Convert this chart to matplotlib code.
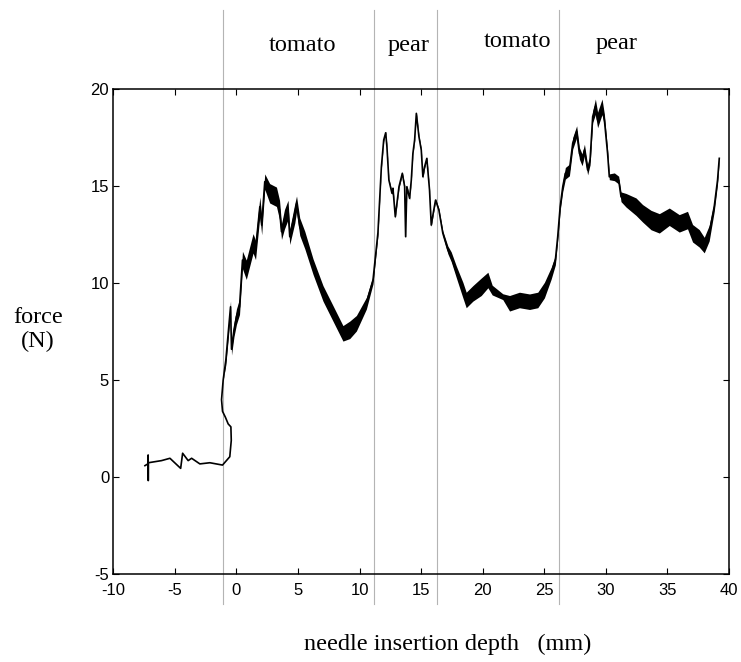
import numpy as np
from matplotlib import pyplot as plt

depth_mm = [-7.43, -7.17, -7.17, -7.16, -7.15, -6.08, -5.40, -4.53, -4.37, -3.92,
            -3.64, -2.97, -2.16, -1.13, -0.54, -0.42, -0.45, -0.67, -0.90, -1.13,
            -1.21, -1.08, -0.86, -0.67, -0.48, -0.40, -0.20, 0.00, 0.25, 0.49,
            0.80, 1.35, 1.55, 1.90, 2.05, 2.30, 2.70, 3.25, 3.50, 3.66,
            3.90, 4.19, 4.33, 4.74, 4.88, 5.14, 5.55, 6.22, 7.03, 7.84,
            8.65, 9.20, 9.74, 10.55, 11.09, 11.49, 11.77, 11.96, 12.12, 12.22,
            12.38, 12.63, 12.71, 12.90, 13.20, 13.47, 13.66, 13.74, 13.84, 14.06,
            14.20, 14.33, 14.47, 14.61, 14.82, 15.01, 15.14, 15.28, 15.46, 15.68,
            15.82, 16.00, 16.17, 16.44, 16.76, 17.17, 17.44, 17.85, 18.39, 18.66,
            19.20, 19.88, 20.42, 20.77, 21.63, 22.18, 22.98, 23.80, 24.47, 25.01,
            25.56, 25.90, 26.09, 26.29, 26.50, 26.71, 27.04, 27.31, 27.63, 27.85,
            28.07, 28.26, 28.52, 28.72, 28.93, 29.15, 29.33, 29.69, 29.88, 30.14,
            30.28, 30.69, 31.04, 31.23, 31.64, 32.45, 32.98, 33.67, 34.34, 35.15,
            35.96, 36.63, 37.04, 37.58, 37.99, 38.39, 38.80, 39.07, 39.21]
force_n = [0.60, 0.70, 1.15, -0.17, 0.75, 0.86, 0.98, 0.46, 1.24, 0.86,
           0.98, 0.69, 0.75, 0.63, 1.06, 1.90, 2.60, 2.75, 3.10, 3.40,
           4.00, 5.00, 6.05, 7.42, 8.79, 6.60, 7.60, 8.28, 8.79, 11.20,
           10.70, 12.06, 11.72, 13.95, 13.00, 15.24, 14.64, 14.46, 13.78, 12.66,
           13.30, 13.78, 12.40, 13.61, 14.10, 12.92, 12.23, 10.86, 9.48, 8.45,
           7.42, 7.60, 7.94, 8.97, 10.17, 12.60, 16.00, 17.39, 17.76, 17.04,
           15.32, 14.64, 14.90, 13.43, 14.98, 15.67, 14.98, 12.40, 14.98, 14.38,
           15.32, 16.70, 17.39, 18.76, 17.56, 16.87, 15.49, 16.01, 16.44, 14.81,
           13.00, 13.69, 14.29, 13.78, 12.58, 11.72, 11.37, 10.60, 9.65, 9.14,
           9.48, 9.82, 10.17, 9.65, 9.31, 8.97, 9.14, 9.05, 9.14, 9.65,
           10.52, 11.20, 12.40, 13.95, 14.98, 15.67, 15.84, 17.22, 17.82, 16.70,
           16.36, 16.87, 15.84, 16.36, 18.59, 19.10, 18.42, 19.10, 18.42, 16.70,
           15.49, 15.49, 15.32, 14.46, 14.28, 13.95, 13.61, 13.26, 13.09, 13.43,
           13.09, 13.26, 12.58, 12.32, 11.97, 12.58, 13.95, 15.32, 16.44]
# thickness of the noisy band around the trace (N)
band_n = [0, 0, 0, 0, 0, 0, 0, 0, 0, 0,
          0, 0, 0, 0, 0, 0, 0, 0, 0, 0,
          0, 0, 0.5, 0.6, 0.6, 0.6, 0.7, 0.8, 0.8, 0.9,
          1.0, 1.0, 1.0, 1.0, 1.0, 0.8, 1.0, 1.0, 1.0, 0.8,
          1.0, 1.0, 0.8, 1.0, 0.8, 0.9, 0.9, 0.8, 0.8, 0.8,
          0.8, 0.9, 0.8, 0.6, 0.4, 0.3, 0.2, 0.15, 0.15, 0.15,
          0.15, 0.15, 0.15, 0.15, 0.15, 0.15, 0.15, 0.15, 0.15, 0.15,
          0.15, 0.15, 0.15, 0.15, 0.15, 0.15, 0.15, 0.15, 0.15, 0.15,
          0.15, 0.15, 0.15, 0.15, 0.25, 0.4, 0.5, 0.6, 0.8, 0.8,
          0.8, 0.9, 0.8, 0.5, 0.3, 0.8, 0.8, 0.8, 0.8, 0.8,
          0.6, 0.5, 0.4, 0.4, 0.5, 0.6, 0.6, 0.6, 0.6, 0.6,
          0.6, 0.6, 0.5, 0.5, 0.6, 0.8, 0.8, 0.8, 0.6, 0.4,
          0.3, 0.4, 0.4, 0.5, 0.7, 0.9, 0.9, 1.0, 1.0, 0.9,
          0.9, 0.9, 0.9, 0.9, 0.8, 0.8, 0.5, 0.4, 0.25]

# tissue boundaries and layer names
boundaries = [-1.1, 11.15, 16.3, 26.2]
layer_names = ['tomato', 'pear', 'tomato', 'pear']
layer_x = [5.4, 14.0, 22.8, 30.85]
layer_y = [21.95, 22.0, 22.2, 22.1]

serif = 'Liberation Serif'
plt.rcParams['font.family'] = 'Liberation Sans'
plt.rcParams['axes.unicode_minus'] = False

fig = plt.figure(figsize=(7.41, 6.62), dpi=100)
ax = fig.add_axes([0.1529, 0.1325, 0.8309, 0.7326])

x = np.array(depth_mm)
y = np.array(force_n)
b = np.array(band_n)

for xb in boundaries:
    ax.plot([xb, xb], [-6.55, 24.1], color='#b4b4b4', lw=0.8,
            clip_on=False, zorder=1)

ax.fill_between(x, y - b / 2, y + b / 2, color='k', lw=0, zorder=2)
ax.plot(x, y, color='k', lw=1.2, zorder=3)

for name, lx, ly in zip(layer_names, layer_x, layer_y):
    ax.text(lx, ly, name, ha='center', va='baseline', fontsize=17.5,
            family=serif)

ax.set_xlim(-10, 40)
ax.set_ylim(-5, 20)
ax.set_xticks(range(-10, 41, 5))
ax.set_yticks(range(-5, 21, 5))
ax.tick_params(direction='in', length=4, width=0.8, top=True, right=True,
               labelsize=12)
ax.tick_params(axis='x', pad=6)
ax.tick_params(axis='y', pad=3)
for s in ax.spines.values():
    s.set_linewidth(1.1)

fig.text(447.5 / 741, 1 - 650 / 662, 'needle insertion depth   (mm)',
         ha='center', va='baseline', fontsize=17.5, family=serif)
fig.text(38 / 741, 1 - 323 / 662, 'force', ha='center', va='baseline',
         fontsize=17.5, family=serif)
fig.text(37.5 / 741, 1 - 347 / 662, '(N)', ha='center', va='baseline',
         fontsize=17.5, family=serif)

fig.savefig('out.png', dpi=100)
